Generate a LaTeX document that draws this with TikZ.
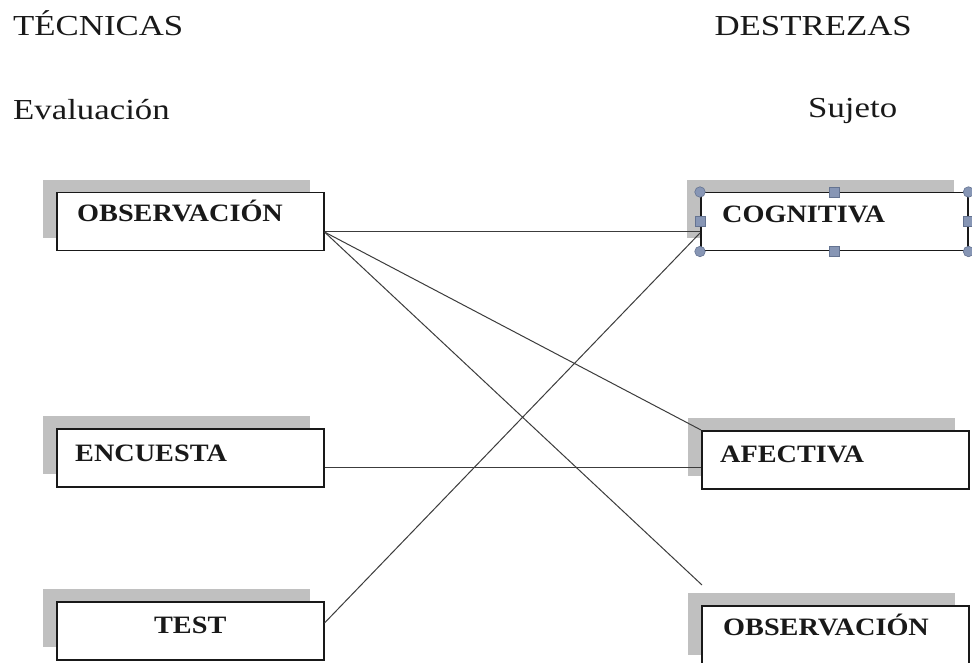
\documentclass[tikz,border=0pt]{standalone}
\usepackage{fontspec}
\setmainfont{Liberation Serif}
\newfontfamily\headfont[FakeStretch=1.2]{Liberation Serif}
\newfontfamily\boxfont[FakeStretch=1.13]{Liberation Serif}
\usetikzlibrary{calc,shadows}
\definecolor{shadowgray}{RGB}{192,192,192}
\definecolor{handlefill}{RGB}{135,150,181}
\definecolor{handledraw}{RGB}{100,115,145}
\definecolor{inkc}{RGB}{25,25,25}
\begin{document}
\begin{tikzpicture}[x=1pt,y=-1pt,
  head/.style={font=\headfont\fontsize{29}{35}\selectfont, text=inkc, inner sep=0pt, anchor=base west},
  boxlabel/.style={font=\boxfont\bfseries\fontsize{25}{30}\selectfont, text=inkc, inner sep=0pt, anchor=base west},
  techbox/.style={draw=inkc, line width=1.5pt, fill=white, minimum width=267pt, minimum height=58pt, inner sep=0pt, anchor=north west,
    general shadow={fill=shadowgray, shadow xshift=-14pt, shadow yshift=13pt}},
  link/.style={draw=inkc!85, line width=1pt},
  cornerhandle/.style={circle, fill=handlefill, draw=handledraw, line width=0.6pt, minimum size=10.5pt, inner sep=0pt},
  midhandle/.style={rectangle, fill=handlefill, draw=handledraw, line width=0.6pt, minimum size=10pt, inner sep=0pt}
]
\fill[white] (0,0) rectangle (972,663);
\useasboundingbox (0,0) rectangle (972,663);

% headings
\node[head] (tec) at (13,36) {TÉCNICAS};
\node[head, anchor=base east] (des) at (912,36) {DESTREZAS};
\node[head] (eva) at (13,120) {Evaluación};
\node[head] (suj) at (808,118) {Sujeto};

% boxes
\node[techbox] (obs) at (56,192) {};
\node[techbox] (enc) at (56,428) {};
\node[techbox] (tst) at (56,601) {};
\node[techbox] (cog) at (700,192) {};
\node[techbox] (afe) at (701,430) {};
\node[techbox, minimum height=62pt] (obs2) at (701,605) {};

% labels
\node[boxlabel] (obsl) at ($(obs.north west)+(21,30)$) {OBSERVACIÓN};
\node[boxlabel] (encl) at ($(enc.north west)+(19,33)$) {ENCUESTA};
\node[boxlabel, anchor=base] (tstl) at ($(tst.north)+(0,32)$) {TEST};
\node[boxlabel] (cogl) at ($(cog.north west)+(22,31)$) {COGNITIVA};
\node[boxlabel] (afel) at ($(afe.north west)+(19,32)$) {AFECTIVA};
\node[boxlabel] (obs2l) at ($(obs2.north west)+(22,30)$) {OBSERVACIÓN};

% connectors
\coordinate (o) at ($(obs.north east)+(0,40)$);
\coordinate (e) at ($(enc.north east)+(0,39)$);
\coordinate (t) at ($(tst.north east)+(0,22)$);
\coordinate (freeend) at (702,585);
\coordinate (cogin) at ($(cog.north west)+(0,41)$);
\draw[link] (o) -- (o -| cog.west);
\draw[link] (o) -- (afe.north west);
\draw[link] (o) -- (freeend);
\draw[link] (e) -- (e -| afe.west);
\draw[link] (t) -- (cogin);

% selection handles
\node[cornerhandle] (hnw) at (cog.north west) {};
\node[cornerhandle] (hne) at (cog.north east) {};
\node[cornerhandle] (hsw) at (cog.south west) {};
\node[cornerhandle] (hse) at (cog.south east) {};
\node[midhandle] (hn) at (cog.north) {};
\node[midhandle] (hs) at (cog.south) {};
\node[midhandle] (hw) at (cog.west) {};
\node[midhandle] (he) at (cog.east) {};
\end{tikzpicture}
\end{document}
